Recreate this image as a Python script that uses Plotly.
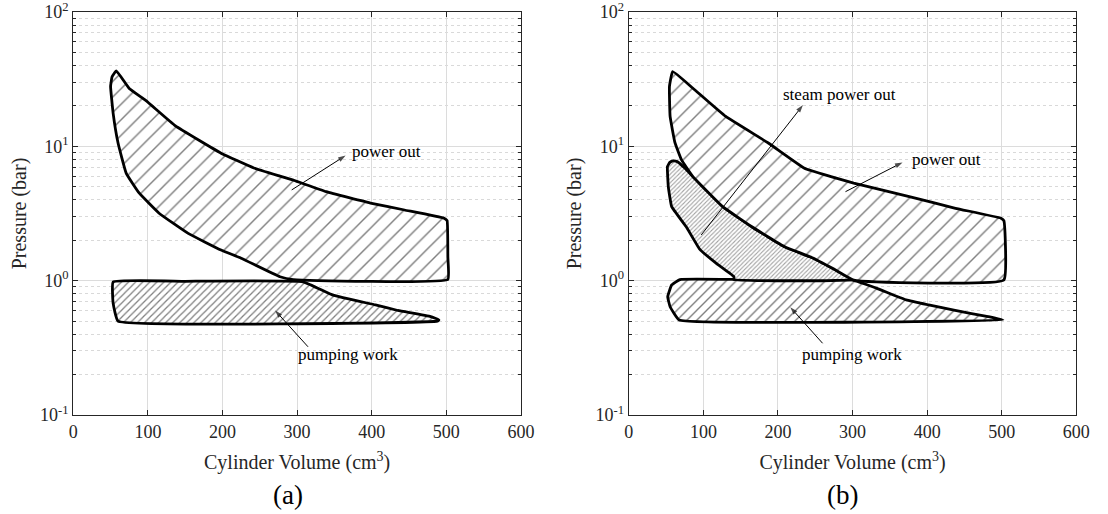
import numpy as np
import plotly.graph_objects as go

# ---------------- data ----------------
# (a) power out loop
a_power_v = [57.7, 75, 97, 137, 198, 242, 277, 295, 339, 400, 444, 497, 501, 502, 502, 295, 277, 225, 198, 154, 115, 88.5, 71, 60, 53.4, 50, 52, 57.7]
a_power_p = [36.5, 27, 22, 14.2, 8.9, 6.9, 6.0, 5.6, 4.6, 3.77, 3.36, 2.92, 2.8, 1.5, 1.02, 1.02, 1.07, 1.47, 1.69, 2.25, 3.18, 4.48, 6.3, 10.6, 17.7, 28, 33, 36.5]
# (a) pumping loop
a_pump_v = [53.4, 150, 308, 348, 405, 435, 479, 490, 488, 60, 53.4, 53.4]
a_pump_p = [0.98, 0.99, 0.98, 0.78, 0.66, 0.60, 0.54, 0.51, 0.50, 0.50, 0.68, 0.98]
# (b) power out loop
b_power_v = [58.8, 86, 130, 187, 235.5, 271, 301.5, 376, 438, 499, 502.8, 502.8, 301.5, 275, 244, 209, 165, 126, 86, 70.7, 62, 55.4, 54.5, 58.8]
b_power_p = [36.1, 27.1, 16.7, 10.6, 6.88, 5.96, 5.32, 4.23, 3.46, 2.92, 2.8, 1.01, 1.01, 1.22, 1.5, 1.79, 2.52, 3.56, 5.96, 7.93, 10.6, 16.7, 27.9, 36.1]
# (b) steam power out loop
b_steam_v = [59.7, 65, 75, 86, 126, 165, 209, 244, 275, 301.5, 141, 141, 117, 95, 77, 57.5, 53, 51.8, 55, 59.7]
b_steam_p = [7.8, 7.7, 6.9, 5.96, 3.56, 2.52, 1.79, 1.5, 1.22, 1.02, 1.02, 1.07, 1.35, 1.72, 2.52, 3.56, 5.0, 7.07, 7.6, 7.8]
# (b) pumping loop
b_pump_v = [68.6, 150, 300, 332, 372, 402, 437.5, 481.7, 501.5, 67.6, 55.4, 52.2, 57.5, 68.6]
b_pump_p = [1.02, 1.02, 1.01, 0.88, 0.72, 0.66, 0.60, 0.54, 0.51, 0.51, 0.64, 0.76, 0.93, 1.02]

# labels: (panel, text, text_x, text_y, xanchor, tail_x, tail_y, head_x, head_y)
labels = [
    (1, "power out", 370.5, 9.15, "left", 292.7, 4.74, 365.0, 8.55),
    (1, "pumping work", 368, 0.284, "center", 314.6, 0.322, 270.5, 0.60),
    (2, "steam power out", 282, 24.2, "center", 97.1, 2.19, 233.5, 20.3),
    (2, "power out", 425.3, 7.93, "center", 290.5, 4.6, 367.0, 7.6),
    (2, "pumping work", 299.7, 0.284, "center", 259.8, 0.342, 216.5, 0.635),
]
panel_labels = ["(a)", "(b)"]

x_ticks = [0, 100, 200, 300, 400, 500, 600]
y_ticks = [0.1, 1, 10, 100]
y_ticktext = ["10<sup>-1</sup>", "10<sup>0</sup>", "10<sup>1</sup>", "10<sup>2</sup>"]
y_minor = [m * 10.0 ** e for e in (-1, 0, 1) for m in range(2, 10)]

FONT = "Liberation Serif"
TXT = "#262626"

fig = go.Figure()


def loop(v, p, xa, ya, size, solidity, fg="black", lw=2.8):
    fig.add_trace(go.Scatter(
        x=v, y=p, xaxis=xa, yaxis=ya, mode="lines", fill="toself",
        line=dict(color="black", width=lw, shape="spline", smoothing=0.3),
        fillcolor="white",
        fillpattern=dict(shape="/", fgcolor=fg, bgcolor="white", size=size, solidity=solidity),
        showlegend=False, hoverinfo="skip"))


loop(a_pump_v, a_pump_p, "x", "y", 5, 0.25)
loop(a_power_v, a_power_p, "x", "y", 11, 0.13)
loop(b_pump_v, b_pump_p, "x2", "y2", 7, 0.2)
loop(b_steam_v, b_steam_p, "x2", "y2", 3, 0.35, fg="#444444")
loop(b_power_v, b_power_p, "x2", "y2", 11, 0.13)

ann = []
for panel, txt, tx, ty, xanc, ax_, ay_, hx, hy in labels:
    xr = "x" if panel == 1 else "x2"
    yr = "y" if panel == 1 else "y2"
    # arrow: thin line from tail to head with an arrow marker at the head
    fig.add_trace(go.Scatter(
        x=[ax_, hx], y=[ay_, hy], xaxis=xr, yaxis=yr, mode="lines+markers",
        line=dict(color="black", width=1),
        marker=dict(symbol=["circle", "arrow"], size=[0, 8], angleref="previous", color="black",
                    line=dict(width=0)),
        showlegend=False, hoverinfo="skip"))
    ann.append(dict(x=tx, y=np.log10(ty), xref=xr, yref=yr, text=txt, showarrow=False,
                    xanchor=xanc, yanchor="middle", font=dict(size=17, color="black")))

for i, lab in enumerate(panel_labels):
    ann.append(dict(x=[0.2595, 0.7694][i], y=-0.199, xref="paper", yref="paper", text=lab,
                    showarrow=False, xanchor="center", yanchor="middle",
                    font=dict(size=27, color="black")))

xa_common = dict(range=[0, 600], tickvals=x_ticks, ticks="inside", ticklen=5, tickcolor=TXT,
                 showgrid=True, gridcolor="#dcdcdc", gridwidth=1, showline=True, linecolor=TXT,
                 linewidth=1.2, mirror="ticks", zeroline=False,
                 tickfont=dict(size=18, color=TXT),
                 title=dict(text="Cylinder Volume (cm<sup>3</sup>)", standoff=14,
                            font=dict(size=20, color=TXT)))
ya_common = dict(type="log", range=[-1, 2.0006], tickvals=y_ticks, ticktext=y_ticktext, ticks="inside",
                 ticklen=5, tickcolor=TXT, showgrid=True, gridcolor="#dcdcdc", gridwidth=1,
                 showline=True, linecolor=TXT, linewidth=1.2, mirror="ticks", zeroline=False,
                 ticklabeloverflow="allow",
                 minor=dict(tickvals=y_minor, ticks="inside", ticklen=3, tickcolor=TXT,
                            showgrid=True, gridcolor="#d9d9d9", griddash="dot", gridwidth=1),
                 tickfont=dict(size=18, color=TXT),
                 title=dict(text="Pressure (bar)", standoff=8,
                            font=dict(size=20, color=TXT)))

fig.update_layout(
    width=1108, height=514, margin=dict(l=0, r=0, t=12, b=99),
    font=dict(family=FONT, size=17, color=TXT),
    paper_bgcolor="white", plot_bgcolor="white",
    xaxis=dict(domain=[0.0627, 0.4738], anchor="y", **xa_common),
    yaxis=dict(domain=[0, 1], anchor="x", **ya_common),
    xaxis2=dict(domain=[0.5728, 0.9838], anchor="y2", **xa_common),
    yaxis2=dict(domain=[0, 1], anchor="x2", **ya_common),
    annotations=ann,
)

fig.write_html("out.html")
